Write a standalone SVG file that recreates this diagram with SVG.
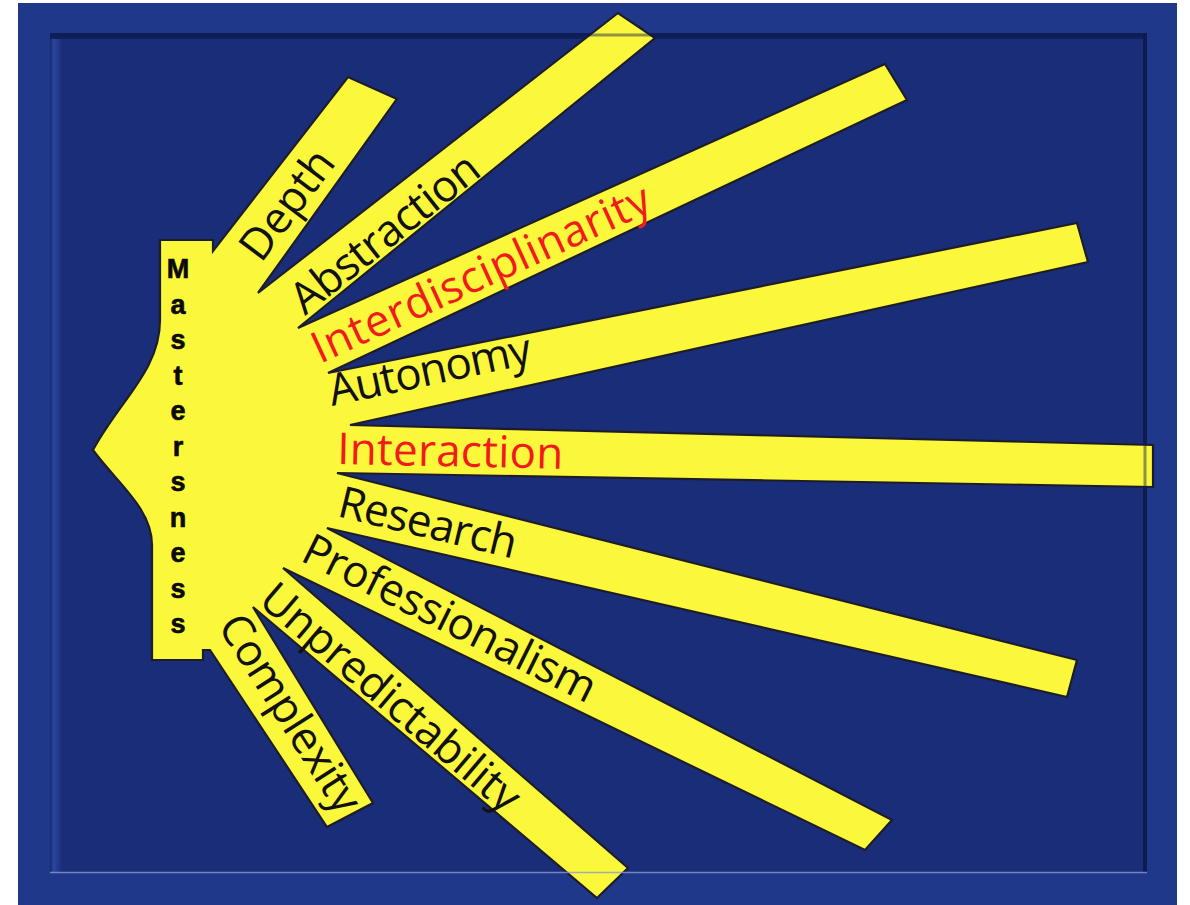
<svg xmlns="http://www.w3.org/2000/svg" width="1190" height="905" viewBox="0 0 1190 905">
<style>
.lbl{font-family:"Open Sans","Noto Sans","Liberation Sans",sans-serif;font-size:44px;fill:#111111}
.red{fill:#f21b1b}
.m{font-family:"Liberation Sans",Arial,sans-serif;font-size:27px;font-weight:bold;fill:#0a0a0a;text-anchor:middle;stroke:#0a0a0a;stroke-width:0.6}
.shell{fill:#fbf73a;stroke:#1e1e2c;stroke-width:2.2;stroke-linejoin:miter}
</style>
<defs>
<filter id="soft" x="-5%" y="-5%" width="110%" height="110%">
<feGaussianBlur stdDeviation="0.7"/>
</filter>
<linearGradient id="leftBevel" x1="0" y1="0" x2="1" y2="0">
<stop offset="0" stop-color="#16286e"/>
<stop offset="0.3" stop-color="#2b479d"/>
<stop offset="1" stop-color="#1b2e7a"/>
</linearGradient>
</defs>
<rect x="0" y="0" width="1190" height="905" fill="#ffffff"/>
<g id="frame">
<rect x="18" y="3" width="1159" height="902" fill="#1f388a"/>
<rect x="50" y="33" width="1097" height="840" fill="#1a2d79"/>
<rect x="50" y="33" width="12" height="840" fill="url(#leftBevel)"/>
<rect x="50" y="33" width="1097" height="6" fill="#10205c"/>
<rect x="1143" y="33" width="4" height="840" fill="#0f1d55"/>
</g>
<g id="shell">
<path class="shell" filter="url(#soft)" d="M160,240 L213,240 L213,251 L348,77 L397,99 L258,293 L618,13 L655,38 L298,328 L885,64 L907,100 L328,373 L1077,223 L1088,262 L350,425 L1153,445 L1153,487 L337,473 L1077,660 L1067,697 L327,528 L892,820 L865,850 L283,568 L628,868 L597,898 L253,607 L373,803 L327,827 L210,650 L203,650 L203,660 L152,660 L152,545 C152,508 116,482 93,450 C120,400 160,370 160,320 Z"/>
</g>
<g id="seams">
<line x1="50" y1="35" x2="1147" y2="35" stroke="#0c1a50" stroke-width="3" opacity="0.45"/>
<line x1="1145" y1="33" x2="1145" y2="873" stroke="#0c1a50" stroke-width="3" opacity="0.45"/>
<line x1="50" y1="872.5" x2="1147" y2="872.5" stroke="#8a9cd6" stroke-width="1.5" opacity="0.8"/>
</g>
<g id="masterness">
<text class="m" x="178" y="278">M</text>
<text class="m" x="178" y="313.5">a</text>
<text class="m" x="178" y="349">s</text>
<text class="m" x="178" y="384.5">t</text>
<text class="m" x="178" y="420">e</text>
<text class="m" x="178" y="455.5">r</text>
<text class="m" x="178" y="491">s</text>
<text class="m" x="178" y="526.5">n</text>
<text class="m" x="178" y="562">e</text>
<text class="m" x="178" y="597.5">s</text>
<text class="m" x="178" y="633">s</text>
</g>
<g id="depth"><text class="lbl" transform="translate(261,264) rotate(-53)">Depth</text></g>
<g id="abstraction"><text class="lbl" transform="translate(305,316) rotate(-38.5)" textLength="228">Abstraction</text></g>
<g id="interdisciplinarity"><text class="lbl red" transform="translate(320,364) rotate(-24.7)" textLength="368">Interdisciplinarity</text></g>
<g id="autonomy"><text class="lbl" transform="translate(332,406) rotate(-12)" textLength="206">Autonomy</text></g>
<g id="interaction"><text class="lbl red" transform="translate(337,464) rotate(1.2)" textLength="226">Interaction</text></g>
<g id="research"><text class="lbl" transform="translate(336,516) rotate(13.5)" textLength="182">Research</text></g>
<g id="professionalism"><text class="lbl" transform="translate(299,560) rotate(26.5)" textLength="322">Professionalism</text></g>
<g id="unpredictability"><text class="lbl" transform="translate(257,603) rotate(40.5)" textLength="326">Unpredictability</text></g>
<g id="complexity"><text class="lbl" transform="translate(217,626) rotate(57.5)" textLength="226">Complexity</text></g>
</svg>
